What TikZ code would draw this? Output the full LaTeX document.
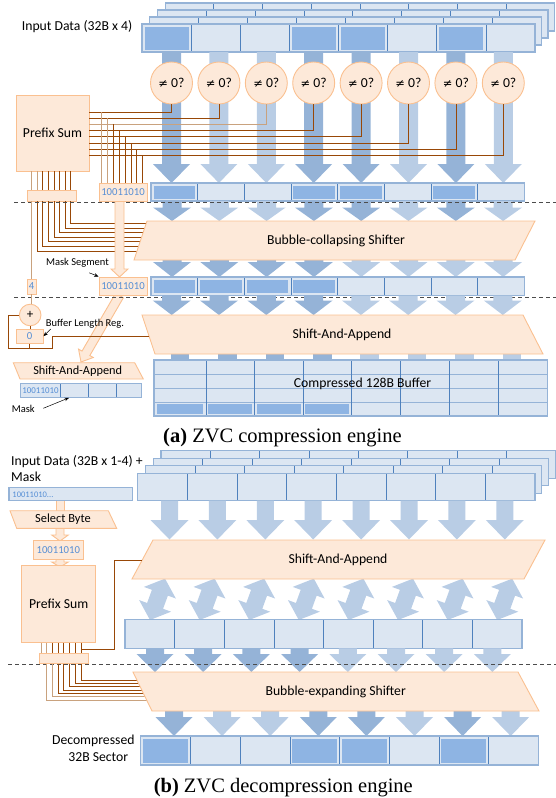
\documentclass[tikz,border=0pt]{standalone}
\usepackage{fontspec}
\setmainfont{Carlito}
\newfontfamily\capfont{Liberation Serif}
\newfontfamily\symfnt{DejaVu Sans}
\usetikzlibrary{arrows.meta}
\definecolor{cfill}{HTML}{DCE6F2}
\definecolor{cdark}{HTML}{8EB4E3}
\definecolor{cline}{HTML}{95B3D7}
\definecolor{cdiv}{HTML}{4F81BD}
\definecolor{arrdk}{HTML}{95B3D7}
\definecolor{arrlt}{HTML}{B9CDE5}
\definecolor{peach}{HTML}{FDE9D9}
\definecolor{peachln}{HTML}{FAC090}
\definecolor{wirec}{HTML}{984807}
\definecolor{wirelt}{HTML}{C9A27E}
\definecolor{bluetxt}{HTML}{558ED5}
\tikzset{
 adk/.style={fill=arrdk},
 alt/.style={fill=arrlt},
 parr/.style={fill=peach, draw=peachln, line width=0.9pt},
 pbox/.style={fill=peach, draw=peachln, line width=0.9pt},
 wire/.style={draw=wirec, line width=0.75pt},
 wirel/.style={draw=wirelt, line width=0.75pt},
 lbl/.style={font=\fontsize{13.7}{15}\selectfont, inner sep=0pt},
 sml/.style={font=\fontsize{10.5}{12}\selectfont, inner sep=0pt},
 bits/.style={font=\fontsize{10.7}{12}\selectfont, text=bluetxt},
 sepline/.style={draw=black!70, dash pattern=on 4pt off 3pt, line width=0.8pt},
 qcirc/.style={circle, pbox, minimum size=42pt, inner sep=0pt, font=\fontsize{13.7}{15}\selectfont},
 note/.style={-{Stealth[length=4.5pt,width=3.5pt]}, line width=0.5pt},
 rowfill/.style={fill=cfill},
 rowline/.style={draw=cline, line width=1.1pt},
 divline/.style={draw=cdiv, line width=0.6pt},
 capt/.style={font=\capfont\fontsize{20.5}{24}\selectfont, anchor=base, inner sep=0pt},
}
\newcommand{\cellrow}[4]{%
  \pgfmathsetmacro{\cw}{((#2)-(#1))/8}%
  \fill[rowfill] (#1,#3) rectangle (#2,#4);
  \foreach \m in {1,...,7} {\draw[divline] ({#1+\m*\cw},#3) -- ({#1+\m*\cw},#4);}
  \draw[rowline] (#1,#3) rectangle (#2,#4);
}
\newcommand{\darkcells}[5]{%
  \pgfmathsetmacro{\cw}{((#2)-(#1))/8}%
  \foreach \m in {#5} {\fill[cdark] ({#1+\m*\cw+2.5},{#3+2.5}) rectangle ({#1+(\m+1)*\cw-2.5},{#4-2.5});}
}
\newcommand{\darr}[7]{\path[#7] ({#1-#5},#2) -- ({#1+#5},#2) -- ({#1+#5},#3) -- ({#1+#6},#3) -- (#1,#4) -- ({#1-#6},#3) -- ({#1-#5},#3) -- cycle;}
\begin{document}
\begin{tikzpicture}[x=1pt,y=-1pt]
\useasboundingbox (0,0) rectangle (556,798);
% ================= (a) =================
\node[lbl, anchor=west] (inA) at (21.7,26.7) {Input Data (32B x 4)};
\foreach \k in {3,2,1} {
  \pgfmathsetmacro{\lx}{142+7.7*\k}
  \pgfmathsetmacro{\rx}{535+6.5*\k}
  \pgfmathsetmacro{\ty}{24-7*\k}
  \pgfmathsetmacro{\by}{52-7*\k}
  \cellrow{\lx}{\rx}{\ty}{\by}
}
\cellrow{142}{535}{24}{52}
\darkcells{142}{535}{24}{52}{0,3,4,6}
% arrows input -> row 2
\foreach \i/\c in {0/adk,1/alt,2/alt,3/adk,4/adk,5/alt,6/adk,7/alt} {
  \pgfmathsetmacro{\cx}{171.5+47.4*\i}
  \darr{\cx}{52}{164}{183}{9.5}{18.5}{\c}
}
\foreach \i in {0,...,7} {
  \pgfmathsetmacro{\cx}{171.5+47.4*\i}
  \node[qcirc] (q\i) at (\cx,83) {{\symfnt\fontsize{11.5}{13}\selectfont ≠} 0?};
}
\node[pbox, lbl, minimum width=73pt, minimum height=76pt] (psa) at (52.5,133) {Prefix Sum};
\node[pbox, bits, minimum width=48pt, minimum height=18pt, inner sep=0pt] (mka) at (123,192) {10011010};
\node[pbox, minimum width=49pt, minimum height=11pt, inner sep=0pt] (pfa) at (51.5,195.5) {};
% wires from comparators to prefix sum
\foreach \i/\st in {0/wire,1/wire,2/wirel,3/wire,4/wire,5/wire,6/wire,7/wire} {
  \pgfmathsetmacro{\wy}{112+6.2*\i}
  \draw[\st] (q\i.south) |- (psa.east |- 0,\wy);
}
\foreach \j/\st in {0/wirel,1/wirel,2/wire,3/wire,4/wire,5/wire,6/wire,7/wire} {
  \pgfmathsetmacro{\dx}{101.7+5.86*\j}
  \pgfmathsetmacro{\wy}{112+6.2*\j}
  \draw[\st] (\dx,\wy) -- (mka.north -| \dx,0);
}
\foreach \j/\st in {0/wirel,1/wirel,2/wire,3/wire,4/wire,5/wire,6/wire,7/wire} {
  \pgfmathsetmacro{\px}{31.7+5.57*\j}
  \draw[\st] (psa.south -| \px,0) -- (pfa.north -| \px,0);
}
\foreach \j in {1,...,7} {
  \pgfmathsetmacro{\px}{31.7+5.57*\j}
  \pgfmathsetmacro{\ey}{251-4.6*(\j-1)}
  \pgfmathsetmacro{\ex}{147-(\ey-221)/3}
  \draw[wire] (pfa.south -| \px,0) |- (\ex,\ey);
}
% row 2
\cellrow{151}{524.3}{183}{201}
\darkcells{151}{524.3}{183}{201}{0,3,4,6}
\foreach \i/\c in {0/adk,1/alt,2/alt,3/adk,4/adk,5/alt,6/adk,7/alt} {
  \pgfmathsetmacro{\cx}{172+47.3*\i}
  \darr{\cx}{201}{207.5}{221}{9.5}{19}{\c}
}
\draw[sepline] (14,202.7) -- (556,202.7);
% arrows shifter -> row 3
\foreach \i/\c in {0/adk,1/adk,2/adk,3/adk,4/alt,5/alt,6/alt,7/alt} {
  \pgfmathsetmacro{\cx}{172+47.3*\i}
  \darr{\cx}{255}{262}{277}{9.5}{19}{\c}
}
\draw[pbox] (147,221) -- (535,221) -- (515,260) -- (134,260) -- cycle;
\node[lbl] (bcs) at (336,240.5) {Bubble-collapsing Shifter};
% mask segment arrow
\path[parr] (115,200) -- (124,200) -- (124,269) -- (128,269) -- (119.5,277) -- (111,269) -- (115,269) -- cycle;
\node[pbox, bits, minimum width=48pt, minimum height=18pt, inner sep=0pt] (mka2) at (123,192) {10011010};
% row 3
\cellrow{151}{524.3}{277}{295.7}
\darkcells{151}{524.3}{277}{295.7}{0,1,2,3}
\path[parr] (123.41,297.72) -- (89.84,355.52) -- (93.32,357.49) -- (81,362) -- (78.54,349.11) -- (82.02,351.08) -- (115.59,293.28) -- cycle;
\node[pbox, bits, minimum width=48pt, minimum height=18pt, inner sep=0pt] (mkb) at (123,286) {10011010};
\node[sml] (mseg) at (77.5,262.7) {Mask Segment};
\coordinate (msegtail) at (89.3,272.8);
\draw[note] (msegtail) -- (mkb.north west);
% prefix sum bit 0 to length
\node[pbox, bits, minimum width=9pt, minimum height=15pt, inner sep=0pt] (four) at (31.7,286.5) {4};
\draw[wirel] (pfa.south -| four.north) -- (four.north);
\draw[sepline] (14,297) -- (556,297);
% arrows row3 -> SAA
\foreach \i/\c in {0/adk,1/adk,2/adk,3/adk,4/alt,5/alt,6/alt,7/alt} {
  \pgfmathsetmacro{\cx}{171.7+47.3*\i}
  \darr{\cx}{295.7}{300.5}{315}{9.5}{19}{\c}
}
\foreach \i/\c in {0/arrdk,1/arrdk,2/arrdk,3/arrdk,4/arrlt,5/arrlt,6/arrlt,7/arrlt} {
  \pgfmathsetmacro{\cx}{180+47.4*\i}
  \fill[\c] ({\cx-9.3},350) rectangle ({\cx+9.3},362);
}
\draw[pbox] (142,315) -- (523,315) -- (543,354) -- (155,354) -- cycle;
\node[lbl] (saa) at (342,334.5) {Shift-And-Append};
% compressed buffer
\fill[rowfill] (154,360) rectangle (547.7,416);
\fill[cdark] (156.7,404.3) rectangle (203.3,413.7);
\fill[cdark] (207.7,404.3) rectangle (252.3,413.7);
\fill[cdark] (256.7,404.3) rectangle (300.7,413.7);
\fill[cdark] (305,404.3) rectangle (349.3,413.7);
\foreach \yy in {374,388,402} {\draw[rowline, line width=0.9pt] (154,\yy) -- (547.7,\yy);}
\foreach \xx in {206,254.3,303.3,351.7,400.5,449.3,498.3} {\draw[divline] (\xx,360) -- (\xx,416);}
\draw[rowline] (154,360) rectangle (547.7,416);
\node[lbl] (cbuf) at (362.5,383.5) {Compressed 128B Buffer};
% buffer length register loop
\node[circle, pbox, minimum size=21.6pt, inner sep=0pt, font=\fontsize{13}{14}\selectfont] (plus) at (30.2,315) {+};
\node[pbox, bits, minimum width=27pt, minimum height=14.3pt, inner sep=0pt] (zero) at (29.5,336.2) {0};
\draw[wirel] (four.south) -- (four.south |- plus.north);
\draw[wire] (plus.south) -- (plus.south |- zero.north);
\coordinate (saaedge) at (149,336);
\draw[wire] (saaedge) -- (52.3,336) -- (52.3,348.3) -- (8.3,348.3) -- (8.3,315) -- (plus.west);
\draw[wire] (zero.south) -- (zero.south |- 0,348.3);
\node[sml] (blr) at (85,324) {Buffer Length Reg.};
\coordinate (blrtail) at (50.7,329);
\draw[note] (blrtail) -- (zero.east);
% small shift-and-append with mask
\draw[pbox] (13.3,362.7) -- (134.7,362.7) -- (143.3,379) -- (20,379) -- cycle;
\node[font=\fontsize{12.3}{14}\selectfont, inner sep=0pt] (saas) at (77.7,371) {Shift-And-Append};
\fill[rowfill] (20.7,383.3) rectangle (141.3,397.3);
\foreach \xx in {60.3,88.3,116.7} {\draw[divline] (\xx,383.3) -- (\xx,397.3);}
\draw[rowline] (20.7,383.3) rectangle (141.3,397.3);
\node[font=\fontsize{8.9}{10}\selectfont, text=bluetxt, inner sep=0pt] (mbits) at (40.5,390.5) {10011010};
\node[sml] (masklbl) at (23.3,409.3) {Mask};
\coordinate (masktail) at (43.3,408.3);
\draw[note] (masktail) -- (69,397.8);
\node[capt] (capa) at (282.5,442.7) {\textbf{(a)} ZVC compression engine};
% ================= (b) =================
\node[lbl, anchor=west] (inB) at (11,461.7) {Input Data (32B x 1-4) +};
\node[lbl, anchor=west] (inB2) at (11,476.7) {Mask};
\foreach \k in {3,2,1} {
  \pgfmathsetmacro{\lx}{137.7+7.77*\k}
  \pgfmathsetmacro{\rx}{535+6.8*\k}
  \pgfmathsetmacro{\ty}{473.3-7.55*\k}
  \pgfmathsetmacro{\by}{500.7-7.55*\k}
  \cellrow{\lx}{\rx}{\ty}{\by}
}
\cellrow{137.7}{535}{473.3}{500.7}
\foreach \i in {0,...,7} {
  \pgfmathsetmacro{\cx}{169.5+47.9*\i}
  \darr{\cx}{500.7}{520}{539.5}{8.5}{19}{alt}
}
% bidirectional arrows
\foreach \i in {0,...,7} {
  \pgfmathsetmacro{\cx}{157.5+49.6*\i}
  \begin{scope}[shift={(\cx,599.3)}, rotate=-20]
    \fill[arrlt] (0,-22) -- (17,-7) -- (8.5,-7) -- (8.5,7) -- (17,7) -- (0,22) -- (-17,7) -- (-8.5,7) -- (-8.5,-7) -- (-17,-7) -- cycle;
  \end{scope}
}
\draw[pbox] (153,540) -- (545,540) -- (524,579) -- (132,579) -- cycle;
\node[lbl] (saab) at (338,560) {Shift-And-Append};
\cellrow{125}{522}{619.3}{648.3}
\foreach \i/\c in {0/adk,1/adk,2/adk,3/adk,4/alt,5/alt,6/alt,7/alt} {
  \pgfmathsetmacro{\cx}{155+48.2*\i}
  \darr{\cx}{648.3}{654}{672}{9}{18.5}{\c}
}
\draw[sepline] (8,664.3) -- (556,664.3);
\foreach \i/\c in {0/adk,1/alt,2/alt,3/adk,4/adk,5/alt,6/adk,7/alt} {
  \pgfmathsetmacro{\cx}{174+48.1*\i}
  \darr{\cx}{708}{717}{736}{9}{18.5}{\c}
}
% prefix sum side (b)
\path[parr] (56,499) rectangle (64,513);
\node[draw=cline, fill=cfill, line width=1.1pt, minimum width=123.3pt, minimum height=13.4pt, inner sep=0pt] (mbar) at (70.65,494) {};
\node[font=\fontsize{8.5}{10}\selectfont, text=bluetxt, anchor=west, inner sep=0pt] (mbarbits) at (12.3,494.3) {10011010...};
\darr{60}{526}{535}{541}{4}{8.3}{parr}
\draw[pbox] (10,510.7) -- (108.3,510.7) -- (116.7,528.3) -- (16.7,528.3) -- cycle;
\node[font=\fontsize{12.4}{14}\selectfont, inner sep=0pt] (selb) at (63,519.5) {Select Byte};
\darr{60}{558}{562}{567}{4}{8.3}{parr}
\node[pbox, bits, minimum width=50pt, minimum height=18.6pt, inner sep=0pt] (mkc) at (58.3,550) {10011010};
\node[pbox, lbl, minimum width=74pt, minimum height=76.6pt] (psb) at (58.7,604) {Prefix Sum};
\node[pbox, minimum width=49.3pt, minimum height=10pt, inner sep=0pt] (pfb) at (63.65,658.3) {};
\foreach \j/\st in {0/wirel,1/wirel,2/wire,3/wire,4/wire,5/wire,6/wire,7/wire} {
  \pgfmathsetmacro{\px}{41+5.7*\j}
  \draw[\st] (psb.south -| \px,0) -- (pfb.north -| \px,0);
}
\foreach \j/\st in {1/wirel,2/wirel,3/wire,4/wire,5/wire,6/wire,7/wire} {
  \pgfmathsetmacro{\px}{41+5.7*\j}
  \pgfmathsetmacro{\ey}{700-3.33*(\j-1)}
  \pgfmathsetmacro{\ex}{133+(\ey-672)*19/39}
  \draw[\st] (pfb.south -| \px,0) |- (\ex,\ey);
}
\coordinate (saabedge) at (142.2,560);
\draw[wire] (80.9,649.3) -| (114.3,560) -- (saabedge);
\draw[pbox] (133,672) -- (518,672) -- (539,711) -- (152,711) -- cycle;
\node[lbl] (bes) at (335.7,692) {Bubble-expanding Shifter};
\cellrow{140.7}{538.3}{736}{765}
\darkcells{140.7}{538.3}{736}{765}{0,3,4,6}
\node[lbl] (dec1) at (93.3,741) {Decompressed};
\node[lbl] (dec2) at (98.3,756.7) {32B Sector};
\node[capt] (capb) at (283.3,792.5) {\textbf{(b)} ZVC decompression engine};
\end{tikzpicture}
\end{document}
